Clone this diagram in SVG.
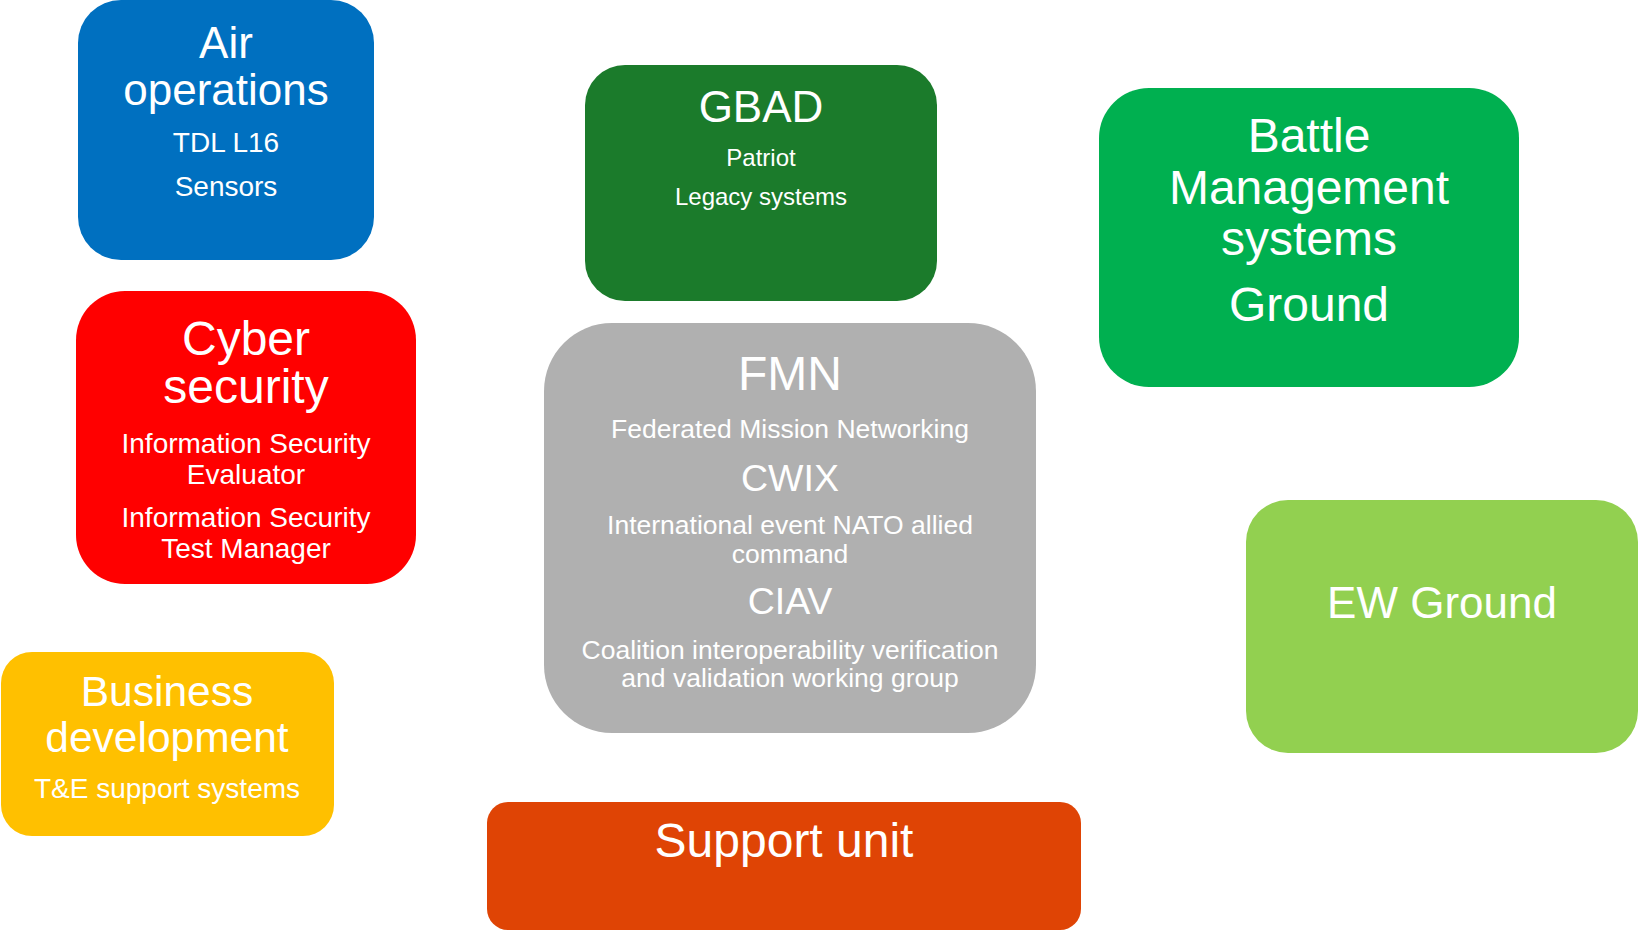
<svg xmlns="http://www.w3.org/2000/svg" width="1638" height="931" viewBox="0 0 1638 931">
<style>
  text { font-family: "Liberation Sans", Arial, sans-serif; fill: #FFFFFF; text-anchor: middle; }
  .t44 { font-size: 44px; }
  .t48 { font-size: 48px; }
  .t42 { font-size: 42.5px; }
  .t37 { font-size: 37.5px; }
  .t28 { font-size: 28px; }
  .t27 { font-size: 26.5px; }
  .t24 { font-size: 24px; }
</style>
<rect width="1638" height="931" fill="#FFFFFF"/>
<g id="connectors"></g>
<g id="air-operations">
  <rect x="78" y="0" width="296" height="260" rx="43" fill="#0070C0"/>
  <text class="t44" x="226" y="58">Air</text>
  <text class="t44" x="226" y="105">operations</text>
  <text class="t28" x="226" y="152">TDL L16</text>
  <text class="t28" x="226" y="196">Sensors</text>
</g>
<g id="gbad">
  <rect x="585" y="65" width="352" height="236" rx="40" fill="#1B7B2B"/>
  <text class="t44" x="761" y="122">GBAD</text>
  <text class="t24" x="761" y="166">Patriot</text>
  <text class="t24" x="761" y="205">Legacy systems</text>
</g>
<g id="battle-management">
  <rect x="1099" y="88" width="420" height="299" rx="50" fill="#00B050"/>
  <text class="t48" x="1309" y="152">Battle</text>
  <text class="t48" x="1309" y="204">Management</text>
  <text class="t48" x="1309" y="255">systems</text>
  <text class="t48" x="1309" y="321">Ground</text>
</g>
<g id="cyber-security">
  <rect x="76" y="291" width="340" height="293" rx="49" fill="#FF0000"/>
  <text class="t48" x="246" y="355">Cyber</text>
  <text class="t48" x="246" y="403">security</text>
  <text class="t28" x="246" y="453">Information Security</text>
  <text class="t28" x="246" y="484">Evaluator</text>
  <text class="t28" x="246" y="527">Information Security</text>
  <text class="t28" x="246" y="558">Test Manager</text>
</g>
<g id="fmn">
  <rect x="544" y="323" width="492" height="410" rx="68" fill="#B0B0B0"/>
  <text class="t48" x="790" y="390">FMN</text>
  <text class="t27" x="790" y="438">Federated Mission Networking</text>
  <text class="t37" x="790" y="491">CWIX</text>
  <text class="t27" x="790" y="534">International event NATO allied</text>
  <text class="t27" x="790" y="563">command</text>
  <text class="t37" x="790" y="614">CIAV</text>
  <text class="t27" x="790" y="659">Coalition interoperability verification</text>
  <text class="t27" x="790" y="687">and validation working group</text>
</g>
<g id="ew-ground">
  <rect x="1246" y="500" width="392" height="253" rx="42" fill="#92D050"/>
  <text class="t44" x="1442" y="618">EW Ground</text>
</g>
<g id="business-development">
  <rect x="1" y="652" width="333" height="184" rx="31" fill="#FFC000"/>
  <text class="t42" x="167" y="706">Business</text>
  <text class="t42" x="167" y="752">development</text>
  <text class="t28" x="167" y="798">T&amp;E support systems</text>
</g>
<g id="support-unit">
  <rect x="487" y="802" width="594" height="128" rx="21" fill="#DF4405"/>
  <text class="t48" x="784" y="857">Support unit</text>
</g>
</svg>
